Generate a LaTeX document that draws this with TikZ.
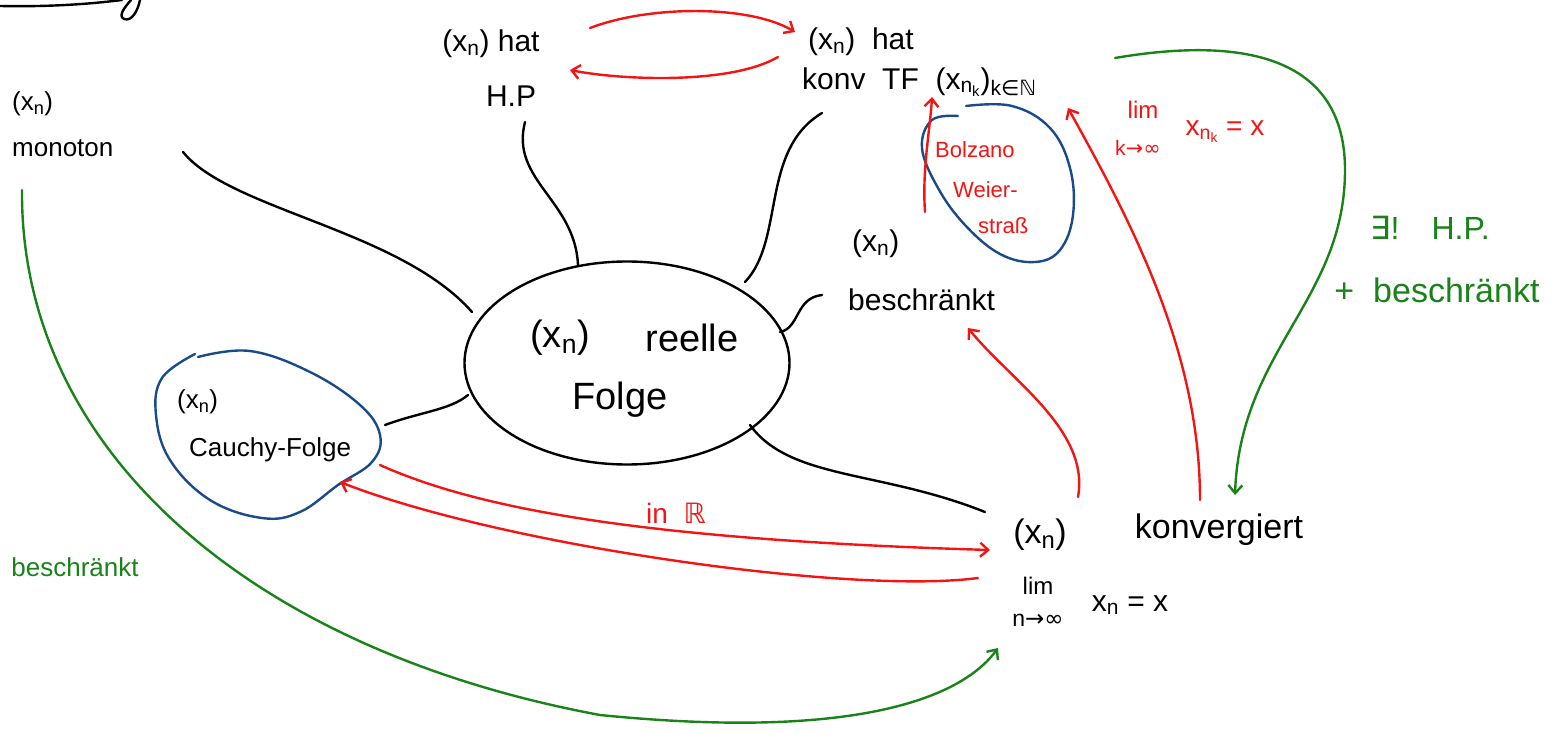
\documentclass[tikz,border=0pt]{standalone}
\usepackage{fontspec}
\setmainfont{Liberation Sans}
\newfontfamily\symf{DejaVu Sans}
\usetikzlibrary{arrows.meta,shapes.geometric}
\definecolor{pred}{RGB}{245,20,20}
\definecolor{pgreen}{RGB}{25,130,25}
\definecolor{pblue}{RGB}{25,75,140}
\newcommand{\fs}[1]{\fontsize{#1}{#1}\selectfont}
\newcommand{\xn}{(x\textsubscript{n})}
\tikzset{
  ink/.style={line width=2.4pt, line cap=round, line join=round},
  blk/.style={ink, draw=black},
  redarr/.style={ink, draw=pred, -{Straight Barb[length=8pt,width=14pt,line width=2.4pt]}},
  grnarr/.style={ink, draw=pgreen, -{Straight Barb[length=8pt,width=14pt,line width=2.4pt]}},
  blob/.style={ink, draw=pblue},
  lbl/.style={inner sep=2pt},
  rlbl/.style={text=pred, inner sep=2pt},
  glbl/.style={text=pgreen, inner sep=2pt},
}
\begin{document}
\begin{tikzpicture}[x=1pt,y=-1pt]
\useasboundingbox (0,0) rectangle (1553,735);

% partial title stroke at top left
\draw[blk] (0,6) .. controls (50,7) and (90,4) .. (122,0);
\draw[blk] (131,0) .. controls (124,8) and (118,16) .. (124,19) .. controls (132,22) and (138,10) .. (140,0);

% blue blobs (hand-drawn outlines)
\draw[blob] plot[smooth, tension=0.65] coordinates {(198,357) (250,351) (310,372) (360,405) (380,435) (372,462) (338,485) (300,512) (262,518) (210,500) (170,460) (156,415) (162,378) (195,354)};
\draw[blob] plot[smooth, tension=0.65] coordinates {(966,106) (1012,106) (1050,128) (1070,168) (1073,215) (1060,250) (1035,262) (1000,254) (965,225) (938,188) (922,148) (932,120) (958,116)};

% nodes
\node[lbl, font=\fs{30}] (hp1) at (491,44) {\xn\ hat};
\node[lbl, font=\fs{30}] (hp2) at (511,96) {H.P};
\node[lbl, font=\fs{30}, anchor=west] (tf1) at (806,42) {\xn\ \ hat};
\node[lbl, font=\fs{30}, anchor=west] (tf2) at (800,82) {konv\ \ TF\ \ (x\textsubscript{n\textsubscript{k}})\textsubscript{k{\symf∈ℕ}}};
\node[lbl, font=\fs{26}, anchor=west] (mon1) at (10,104) {\xn};
\node[lbl, font=\fs{26}, anchor=west] (mon2) at (10,148) {monoton};
\node[ink, draw=black, ellipse, minimum width=325pt, minimum height=203pt] (folge) at (627,363) {};
\node[font=\fs{38}] (folge1) at (560,338) {\xn};
\node[font=\fs{38}] (folge2) at (692,338) {reelle};
\node[font=\fs{38}] (folge3) at (620,400) {Folge};
\node[lbl, font=\fs{30}, anchor=west] (besch1) at (850,244) {\xn};
\node[lbl, font=\fs{30}, anchor=west] (besch2) at (846,300) {beschränkt};
\node[rlbl, font=\fs{22}, anchor=west] (bw1) at (933,150) {Bolzano};
\node[rlbl, font=\fs{22}, anchor=west] (bw2) at (951,190) {Weier-};
\node[rlbl, font=\fs{22}, anchor=west] (bw3) at (976,226) {straß};
\node[lbl, font=\fs{26}, anchor=west] (cf1) at (175,402) {\xn};
\node[lbl, font=\fs{26}, anchor=west] (cf2) at (187,450) {Cauchy-Folge};
\node[lbl, font=\fs{34}] (xk) at (1040,535) {\xn};
\node[lbl, font=\fs{34}] (konv) at (1219,530) {konvergiert};
\node[lbl, font=\fs{24}] (limn1) at (1038,586) {lim};
\node[lbl, font=\fs{23}] (limn2) at (1038,620) {n{\symf→∞}};
\node[lbl, font=\fs{30}] (limn3) at (1130,605) {x\textsubscript{n} = x};
\node[rlbl, font=\fs{24}] (limk1) at (1143,110) {lim};
\node[rlbl, font=\fs{21}] (limk2) at (1138,148) {k{\symf→∞}};
\node[rlbl, font=\fs{28}] (limk3) at (1225,132) {x\textsubscript{n\textsubscript{k}} = x};
\node[glbl, font=\fs{32}] (ex1) at (1430,228) {{\symf∃}!\quad H.P.};
\node[glbl, font=\fs{34}] (ex2) at (1437,290) {+\ \ beschränkt};
\node[glbl, font=\fs{26}] (gb) at (75,567) {beschränkt};
\node[rlbl, font=\fs{28}] (inr) at (676,513) {in\ \ {\symf ℝ}};

% connector end points
\coordinate (m1) at (183,152);  \coordinate (m2) at (472,312);
\coordinate (h1) at (525,122);  \coordinate (h2) at (578,265);
\coordinate (t1) at (822,113);  \coordinate (t2) at (745,282);
\coordinate (b1) at (822,295);  \coordinate (b2) at (780,332);
\coordinate (c1) at (385,425);  \coordinate (c2) at (468,395);
\coordinate (k1) at (750,425);  \coordinate (k2) at (985,512);

% black connectors
\draw[blk] (m1) .. controls (230,210) and (400,230) .. (m2);
\draw[blk] (h1) .. controls (510,180) and (575,200) .. (h2);
\draw[blk] (t1) .. controls (760,150) and (785,240) .. (t2);
\draw[blk] (b1) .. controls (795,298) and (800,328) .. (b2);
\draw[blk] (c1) .. controls (420,412) and (450,410) .. (c2);
\draw[blk] (k1) .. controls (790,480) and (880,470) .. (k2);

% red arrows
\coordinate (ra1) at (590,28);   \coordinate (ra2) at (795,32);
\coordinate (rb1) at (778,57);   \coordinate (rb2) at (570,70);
\coordinate (rc1) at (1078,497); \coordinate (rc2) at (968,328);
\coordinate (rd1) at (925,212);  \coordinate (rd2) at (932,97);
\coordinate (re1) at (1200,500); \coordinate (re2) at (1068,108);
\coordinate (rf1) at (380,465);  \coordinate (rf2) at (990,550);
\coordinate (rg1) at (978,578);  \coordinate (rg2) at (340,482);
\draw[redarr] (ra1) .. controls (650,5) and (750,5) .. (ra2);
\draw[redarr] (rb1) .. controls (730,85) and (620,80) .. (rb2);
\draw[redarr] (rc1) .. controls (1090,430) and (1010,380) .. (rc2);
\draw[redarr] (rd1) .. controls (922,170) and (930,130) .. (rd2);
\draw[redarr] (re1) .. controls (1200,350) and (1130,220) .. (re2);
\draw[redarr] (rf1) .. controls (480,510) and (650,540) .. (rf2);
\draw[redarr] (rg1) .. controls (850,595) and (500,545) .. (rg2);

% green arrows
\coordinate (ga1) at (1115,58);  \coordinate (ga2) at (1235,495);
\coordinate (gb1) at (22,190);   \coordinate (gb2) at (998,648);
\draw[grnarr] (ga1) .. controls (1250,35) and (1345,60) .. (1345,170)
  .. controls (1345,300) and (1240,350) .. (ga2);
\draw[grnarr] (gb1) .. controls (20,450) and (250,650) .. (600,715)
  .. controls (850,740) and (960,700) .. (gb2);
\end{tikzpicture}
\end{document}
